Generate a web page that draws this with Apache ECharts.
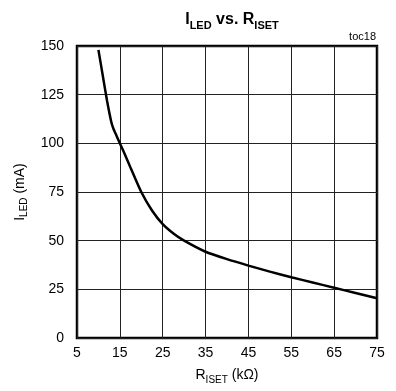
<!DOCTYPE html>
<html><head><meta charset="utf-8">
<script src="https://cdn.jsdelivr.net/npm/echarts@6/dist/echarts.min.js"></script>
<style>html,body{margin:0;padding:0;background:#fff}#c{width:396px;height:391px}</style>
</head><body><div id="c"></div>
<script>
var rIset = [10, 11, 12, 13, 13.5, 14, 15, 16, 17.5, 20, 22.5, 25, 27.5, 30, 35, 40, 45, 50, 55, 60, 65, 70, 75];
var iLed  = [148, 135, 122, 111, 107.5, 105, 100, 95.2, 87.5, 75, 65.5, 58.5, 53.7, 50, 44.3, 40.5, 37.2, 34.1, 31.2, 28.5, 25.8, 23.1, 20.4];
var xTicks = [5, 15, 25, 35, 45, 55, 65, 75];
var yTicks = [0, 25, 50, 75, 100, 125, 150];

var FONT = "'Liberation Sans Narrow','Arial Narrow','Liberation Sans',Arial,sans-serif";
var chart = echarts.init(document.getElementById('c'));
chart.setOption({
  animation: false,
  title: [{
    text: '{m|I}{s|LED}{m| vs. R}{s|ISET}',
    left: 227, textAlign: 'center', top: 5,
    textStyle: {
      rich: {
        m: {fontFamily: FONT, fontWeight: 'bold', fontSize: 16, color: '#000', verticalAlign: 'bottom', lineHeight: 18},
        s: {fontFamily: FONT, fontWeight: 'bold', fontSize: 11, color: '#000', verticalAlign: 'bottom', lineHeight: 12, padding: [0,0,-3,0]}
      }
    }
  }, {
    text: 'toc18', right: 20, top: 31, padding: 0,
    textStyle: {fontFamily: FONT, fontWeight: 'normal', fontSize: 11, color: '#000'}
  }],
  grid: {left: 77, right: 19, top: 46, bottom: 53, show: true, borderColor: '#000', borderWidth: 2.5, backgroundColor: 'transparent'},
  xAxis: {
    type: 'value', min: 5, max: 75, interval: 10,
    axisLine: {show: false}, axisTick: {show: false},
    splitLine: {show: true, lineStyle: {color: '#222', width: 1}},
    axisLabel: {fontFamily: FONT, fontSize: 14, color: '#000', margin: 8,
      formatter: function (v) { return xTicks.indexOf(v) >= 0 ? String(v) : ''; }},
    name: '{m|R}{s|ISET}{m| (kΩ)}', nameLocation: 'middle', nameGap: 27,
    nameTextStyle: {rich: {
      m: {fontFamily: FONT, fontSize: 14, color: '#000', verticalAlign: 'bottom', lineHeight: 17},
      s: {fontFamily: FONT, fontSize: 10, color: '#000', verticalAlign: 'bottom', lineHeight: 11, padding: [0,0,-3,0]}
    }}
  },
  yAxis: {
    type: 'value', min: 0, max: 150, interval: 25,
    axisLine: {show: false}, axisTick: {show: false},
    splitLine: {show: true, lineStyle: {color: '#222', width: 1}},
    axisLabel: {fontFamily: FONT, fontSize: 14, color: '#000', margin: 13,
      formatter: function (v) { return yTicks.indexOf(v) >= 0 ? String(v) : ''; }},
    name: '{m|I}{s|LED}{m| (mA)}', nameLocation: 'middle', nameGap: 47, nameRotate: 90,
    nameTextStyle: {rich: {
      m: {fontFamily: FONT, fontSize: 14, color: '#000', verticalAlign: 'bottom', lineHeight: 17},
      s: {fontFamily: FONT, fontSize: 10, color: '#000', verticalAlign: 'bottom', lineHeight: 11, padding: [0,0,-3,0]}
    }}
  },
  series: [{
    type: 'line', showSymbol: false, smooth: 0.2,
    data: rIset.map(function (x, i) { return [x, iLed[i]]; }),
    lineStyle: {color: '#000', width: 2.5}
  }]
});
</script></body></html>
